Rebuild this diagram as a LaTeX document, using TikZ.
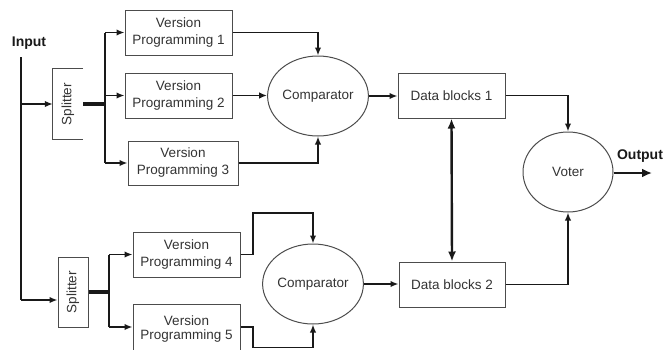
\documentclass[tikz,border=0pt]{standalone}
\usepackage{fontspec}
\setmainfont{Liberation Sans}
\usetikzlibrary{arrows.meta,shapes.geometric}

\tikzset{
  txt/.style={text=black!80, font=\fontsize{13.5}{17}\selectfont, align=center},
  boldlbl/.style={text=black!90, font=\fontsize{14}{17}\selectfont\bfseries},
  vbox/.style={txt, draw=black!70, line width=1pt, minimum width=107pt, minimum height=45pt, inner sep=0pt},
  oval/.style={txt, draw=black!70, line width=1pt, ellipse, minimum width=90pt, minimum height=80pt, inner sep=0pt},
  splitbox/.style={txt, minimum width=30pt, minimum height=70pt, inner sep=0pt},
  wire/.style={draw=black!90, line width=1.7pt},
  bus/.style={draw=black!90, line width=3.2pt},
  arr/.style={wire, -{Latex[length=8pt,width=6.5pt]}},
  bigarr/.style={draw=black!90, line width=2.4pt, {Latex[length=10pt,width=8pt]}-{Latex[length=10pt,width=8pt]}},
  outarr/.style={draw=black!90, line width=2.8pt, -{Latex[length=10pt,width=9pt]}},
}

\begin{document}
\begin{tikzpicture}[x=1pt,y=-1pt]
\useasboundingbox (0,0) rectangle (664,349);

% labels at the ends
\node[boldlbl] (inlbl) at (29,43) {Input};
\node[boldlbl] (outlbl) at (640,156) {Output};

% splitters
\node[splitbox] (sp1) at (68,104) {\rotatebox{90}{Splitter}};
\draw[draw=black!70, line width=1pt] (sp1.north east) -- (sp1.north west) -- (sp1.south west) -- (sp1.south east);
\node[splitbox, draw=black!70, line width=1pt] (sp2) at (73,292) {\rotatebox{90}{Splitter}};

% program versions
\node[vbox] (vp1) at (178.5,32.5) {Version\\Programming 1};
\node[vbox] (vp2) at (178.5,95.5) {Version\\Programming 2};
\node[vbox, minimum width=110pt, minimum height=44pt] (vp3) at (183,163) {Version\\Programming 3};
\node[vbox] (vp4) at (186.5,254.5) {Version\\Programming 4};
% the last box runs past the lower edge
\node[vbox, minimum height=50pt] (vp5) at (186.5,329) {Version\\[-2.5pt]Programming 5};

% comparators, data blocks and voter
\node[oval] (c1) at (318,96) {Comparator};
\node[oval, minimum width=92pt] (c2) at (313,284) {Comparator};
\node[vbox] (db1) at (451.5,95.5) {Data blocks 1};
\node[vbox, minimum width=106pt] (db2) at (452,284.5) {Data blocks 2};
\node[oval] (vt) at (568,172) {Voter};

% input feed
\coordinate (inTop) at (21,57);
\coordinate (inMid) at (21,104);
\coordinate (inBot) at (21,300);
\draw[wire] (inTop) -- (inBot);
\draw[arr] (inMid) -- (sp1.west);
\draw[arr] (inBot) -- (inBot -| sp2.west);

% first splitter fan-out
\coordinate (b1) at (105,104);
\draw[bus] (sp1.east) -- (b1);
\draw[wire] (b1 |- vp1.west) -- (b1 |- vp3.west);
\draw[arr] (b1 |- vp1.west) -- (vp1.west);
\draw[arr] (b1) -- (b1 |- vp2.west) -- (vp2.west);
\draw[arr] (b1 |- vp3.west) -- (vp3.west);

% second splitter fan-out
\coordinate (b2) at (109,292);
\coordinate (v5in) at (109,327);
\draw[bus] (sp2.east) -- (b2);
\draw[wire] (b2 |- vp4.west) -- (v5in);
\draw[arr] (b2 |- vp4.west) -- (vp4.west);
\draw[arr] (v5in) -- (v5in -| vp5.west);

% into the first comparator
\draw[arr] (vp1.east) -| (c1.north);
\draw[arr] (vp2.east) -- (vp2.east -| c1.west);
\draw[arr] (vp3.east) -| (c1.south);

% into the second comparator
\coordinate (k4) at (253,213);
\coordinate (k5) at (253,347.5);
\draw[arr] (vp4.east) -- (vp4.east -| k4) -- (k4) -- (k4 -| c2.north) -- (c2.north);
\draw[arr] (v5in -| vp5.east) -- (v5in -| k5) -- (k5) -- (k5 -| c2.south) -- (c2.south);

% comparators to data blocks
\draw[arr] (c1.east) -- (c1.east -| db1.west);
\draw[arr] (c2.east) -- (c2.east -| db2.west);

% exchange between data blocks
\draw[bigarr] (db1.south) -- (db2.north);

% to the voter and out
\draw[arr] (db1.east) -| (vt.north);
\draw[arr] (db2.east) -| (vt.south);
\coordinate (outEnd) at (652,173);
\draw[outarr] (vt.east |- outEnd) -- (outEnd);
\end{tikzpicture}
\end{document}
